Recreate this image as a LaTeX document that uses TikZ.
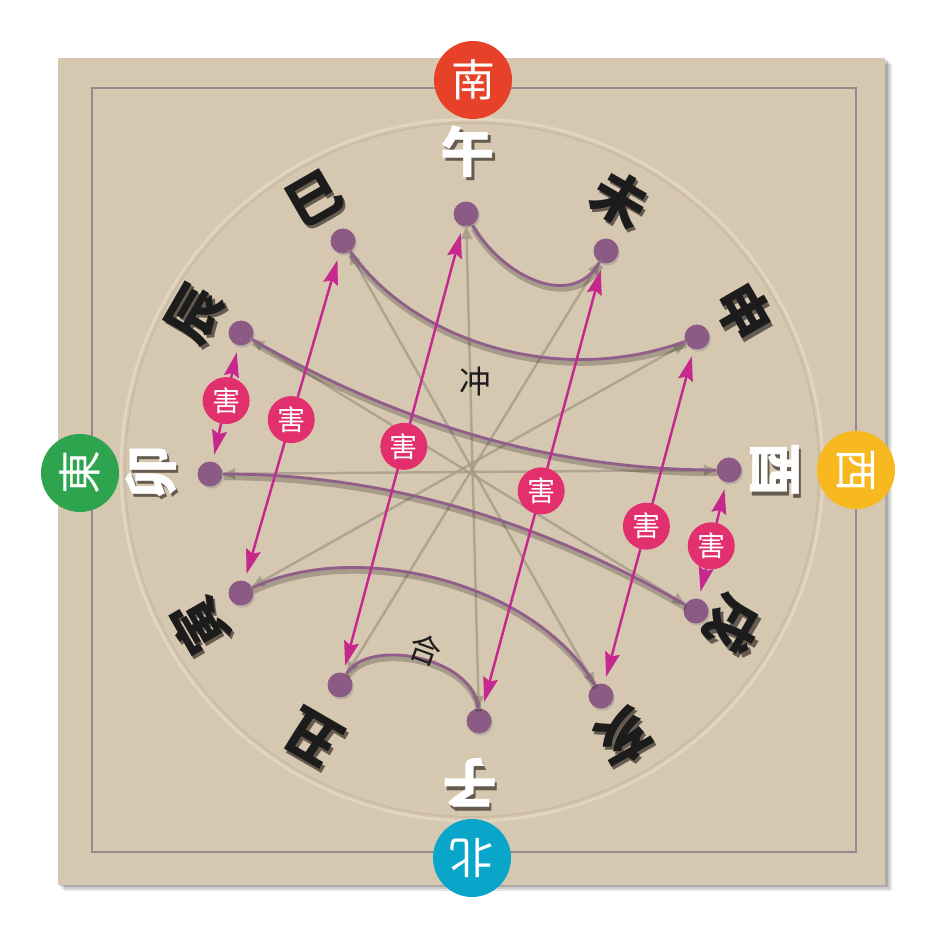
\documentclass[tikz,border=0pt]{standalone}
\usepackage{fontspec}
\newfontfamily\cjk{Noto Sans CJK SC}
\usepackage{tikz}
\usetikzlibrary{arrows.meta, shadows}
\definecolor{board}{HTML}{D6C7B0}
\definecolor{frame}{HTML}{968A8C}
\definecolor{ringlight}{HTML}{E2D6C3}
\definecolor{ringdark}{HTML}{C4B39B}
\definecolor{dotc}{HTML}{8C5B85}
\definecolor{hecol}{HTML}{8F5E8A}
\definecolor{chong}{HTML}{A39987}
\definecolor{harm}{HTML}{C6288E}
\definecolor{harmdisc}{HTML}{E2306F}
\definecolor{inkc}{HTML}{1C1C1C}
\definecolor{labelshadow}{HTML}{665B4F}
\definecolor{south}{HTML}{E8412A}
\definecolor{north}{HTML}{0AA6C9}
\definecolor{east}{HTML}{2EA44F}
\definecolor{west}{HTML}{F8B820}
\tikzstyle{dot} = [circle, fill=dotc, minimum size=0.5cm, inner sep=0pt, drop shadow={opacity=0.35, shadow xshift=0.8pt, shadow yshift=-1.2pt}]
\tikzstyle{branch} = [font=\cjk\bfseries\fontsize{31}{31}\selectfont, inner sep=0pt]
\tikzstyle{compass} = [circle, minimum size=1.56cm, inner sep=0pt, text=white, font=\cjk\fontsize{25}{25}\selectfont]
\tikzstyle{harmnode} = [circle, fill=harmdisc, minimum size=0.94cm, inner sep=0pt, text=white, font=\cjk\fontsize{16}{16}\selectfont]
\tikzstyle{small} = [font=\cjk\fontsize{18}{18}\selectfont, text=inkc, inner sep=0pt]
\tikzstyle{he} = [hecol, line width=1.6pt, preaction={draw, black, opacity=0.22, line width=3.5pt, transform canvas={xshift=0.6pt, yshift=-1.8pt}}]
\tikzstyle{chongline} = [chong, opacity=0.75, line width=1.4pt, {Latex[length=9pt,width=7pt]}-{Latex[length=9pt,width=7pt]}, shorten <=-2pt, shorten >=-2pt]
\tikzstyle{harmarrow} = [harm, line width=1.4pt, {Stealth[length=14pt,width=8.5pt,inset=2pt]}-{Stealth[length=14pt,width=8.5pt,inset=2pt]}, shorten <=4pt, shorten >=4pt]
\newcommand{\branchlabel}[5]{%
  \pgfmathsetmacro{\shx}{1.3*cos(#3)-2*sin(#3)}%
  \pgfmathsetmacro{\shy}{-1.3*sin(#3)-2*cos(#3)}%
  \node[branch, text=#4, rotate=#3] (#1) at (#2) {\rlap{\hspace{\shx pt}\raisebox{\shy pt}{\color{labelshadow}#5}}#5};}

\begin{document}
\begin{tikzpicture}[x=0.02cm, y=0.02cm]
            \useasboundingbox (-472,-475) rectangle (473,470);
            % board
            \fill[black, opacity=0.10] (-408,-421) rectangle (420,406);
            \fill[black, opacity=0.12] (-410,-419) rectangle (418,408);
            \fill[black, opacity=0.15] (-412,-417) rectangle (416,410);
            \fill[board] (-414,-415) rectangle (413,412);
            \draw[frame, line width=1.6pt] (-380,-382) rectangle (384,382);
            \draw[ringlight, line width=1.5pt] (0,0) circle (351);
            \draw[ringdark, line width=1pt, opacity=0.6] (0,0) circle (347);
            % points
            \node[dot] (wu) at (-6,256) {};
            \node[dot] (wei) at (134,219) {};
            \node[dot] (shen) at (225,133) {};
            \node[dot] (you) at (257,0) {};
            \node[dot] (xu) at (224,-141) {};
            \node[dot] (hai) at (129,-226) {};
            \node[dot] (zi) at (7,-251) {};
            \node[dot] (chou) at (-132,-215) {};
            \node[dot] (yin) at (-231,-123) {};
            \node[dot] (mao) at (-262,-4) {};
            \node[dot] (chen) at (-231,137) {};
            \node[dot] (si) at (-129,229) {};
            % chong
            \draw[chongline] (wu) -- (zi);
            \draw[chongline] (wei) -- (chou);
            \draw[chongline] (shen) -- (yin);
            \draw[chongline] (you) -- (mao);
            \draw[chongline] (xu) -- (chen);
            \draw[chongline] (hai) -- (si);
            % he
            \draw[he] (wu) .. controls +(-60:70) and +(-120:70) .. (wei);
            \draw[he] (si) .. controls +(-55:120) and +(-160:150) .. (shen);
            \draw[he] (chen) .. controls +(-30:150) and +(180:200) .. (you);
            \draw[he] (mao) .. controls +(0:200) and +(150:150) .. (xu);
            \draw[he] (yin) .. controls +(25:130) and +(120:130) .. (hai);
            \draw[he] (chou) .. controls +(60:55) and +(95:65) .. (zi);
            % hai
            \draw[harmarrow] (chen) -- node[harmnode, pos=0.475] (harmchenmao) {害} (mao);
            \draw[harmarrow] (si) -- node[harmnode, pos=0.508] (harmsiyin) {害} (yin);
            \draw[harmarrow] (wu) -- node[harmnode, pos=0.493] (harmwuchou) {害} (chou);
            \draw[harmarrow] (wei) -- node[harmnode, pos=0.511] (harmweizi) {害} (zi);
            \draw[harmarrow] (shen) -- node[harmnode, pos=0.529] (harmshenhai) {害} (hai);
            \draw[harmarrow] (you) -- node[harmnode, pos=0.546] (harmyouxu) {害} (xu);
            \node[small] (chongtext) at (3,88) {冲};
            \node[small, rotate=-20] (hetext) at (-47,-180) {合};
            % branches
            \branchlabel{lwu}{-4,317}{0}{white}{午}
            \branchlabel{lwei}{148,270}{-30}{inkc}{未}
            \branchlabel{lshen}{272,158}{-60}{inkc}{申}
            \branchlabel{lyou}{304,0}{-90}{white}{酉}
            \branchlabel{lxu}{263,-155}{-120}{inkc}{戌}
            \branchlabel{lhai}{152,-269}{-150}{inkc}{亥}
            \branchlabel{lzi}{-2,-315}{180}{white}{子}
            \branchlabel{lchou}{-159,-269}{150}{inkc}{丑}
            \branchlabel{lyin}{-272,-155}{120}{inkc}{寅}
            \branchlabel{lmao}{-320,-2}{90}{white}{卯}
            \branchlabel{lchen}{-275,155}{60}{inkc}{辰}
            \branchlabel{lsi}{-157,270}{30}{inkc}{巳}
            % compass
            \node[compass, fill=south] (nan) at (1,390) {南};
            \node[compass, fill=north, rotate=180] (bei) at (0,-388) {北};
            \node[compass, fill=east, rotate=90] (dong) at (-392,-3) {東};
            \node[compass, fill=west, rotate=-90] (xi) at (384,0) {西};
        \end{tikzpicture}
\end{document}
